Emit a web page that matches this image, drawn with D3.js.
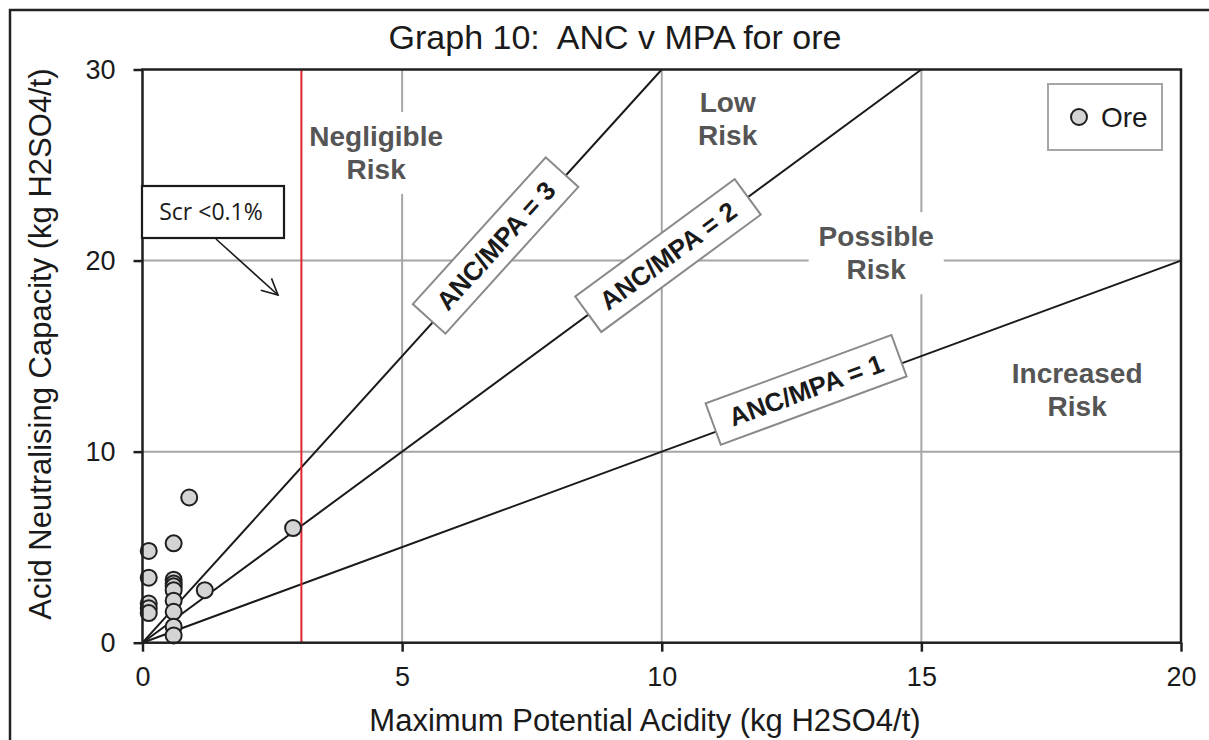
<!DOCTYPE html>
<html><head><meta charset="utf-8">
<script src="https://cdn.jsdelivr.net/npm/d3@7"></script>
<style>
html,body{margin:0;padding:0;background:#fff;}
svg{display:block;font-family:"Liberation Sans",Arial,sans-serif;}
.pre{white-space:pre;}
</style></head>
<body>
<svg id="chart" width="1209" height="740"></svg>
<script>
// ---- data ----
const chartTitle = "Graph 10:  ANC v MPA for ore";
const xTitle = "Maximum Potential Acidity (kg H2SO4/t)";
const yTitle = "Acid Neutralising Capacity (kg H2SO4/t)";
const xTicks = [0, 5, 10, 15, 20];
const yTicks = [0, 10, 20, 30];
const seriesName = "Ore";
const oreMPA = [0.12, 0.12, 0.12, 0.12, 0.12, 0.6, 0.6, 0.6, 0.6, 0.6, 0.6, 0.6, 0.6, 0.6, 0.9, 1.2, 2.9];
const oreANC = [4.8, 3.4, 2.05, 1.8, 1.55, 5.2, 3.3, 3.1, 2.95, 2.75, 2.2, 1.62, 0.84, 0.38, 7.6, 2.75, 6.0];
const ratios = [3, 2, 1];
const ratioLabels = ["ANC/MPA = 3", "ANC/MPA = 2", "ANC/MPA = 1"];
const ratioLabelMPA = [6.8, 10.12, 12.78];
const ratioLabelANC = [20.79, 20.26, 13.23];
const scrLimit = 3.06;
const scrLabel = "Scr <0.1%";
const regionNames = [["Negligible", "Risk"], ["Low", "Risk"], ["Possible", "Risk"], ["Increased", "Risk"]];
const regionMPA = [4.5, 11.27, 14.13, 18.0];
const regionANC = [26.0, 27.75, 20.75, 13.6];

// ---- layout ----
const svg = d3.select("#chart");
const x = d3.scaleLinear().domain([0, 20]).range([142.5, 1181]);
const y = d3.scaleLinear().domain([0, 30]).range([642.7, 69.5]);
const X0 = x(0), X1 = x(20), Y0 = y(0), Y1 = y(30);

// outer frame
svg.append("rect").attr("x", 10).attr("y", 10).attr("width", 1400).attr("height", 900)
  .attr("fill", "none").attr("stroke", "#222").attr("stroke-width", 2.5);

// gridlines
const grid = svg.append("g");
grid.selectAll(".gx").data(xTicks.filter(d => d > 0 && d < 20)).join("line")
  .attr("x1", d => x(d)).attr("x2", d => x(d)).attr("y1", Y0).attr("y2", Y1)
  .attr("stroke", "#a6a6a6").attr("stroke-width", 2);
grid.selectAll(".gy").data(yTicks.filter(d => d > 0 && d < 30)).join("line")
  .attr("y1", d => y(d)).attr("y2", d => y(d)).attr("x1", X0).attr("x2", X1)
  .attr("stroke", "#a6a6a6").attr("stroke-width", 2);

// region labels with white backgrounds
const regG = svg.append("g");
regionNames.forEach((lines, i) => {
  const g = regG.append("g");
  const bg = g.append("rect").attr("fill", "#fff");
  const t = g.append("text").attr("text-anchor", "middle")
    .attr("font-size", 28).attr("font-weight", "bold").attr("fill", "#555");
  lines.forEach((s, j) => {
    t.append("tspan").attr("x", x(regionMPA[i])).attr("y", y(regionANC[i]) + j * 33).text(s);
  });
  const b = t.node().getBBox();
  bg.attr("x", b.x - 10).attr("y", b.y - 9).attr("width", b.width + 20).attr("height", b.height + 18);
});

// ratio lines
svg.append("g").selectAll("line").data(ratios).join("line")
  .attr("x1", x(0)).attr("y1", y(0))
  .attr("x2", r => x(Math.min(20, 30 / r))).attr("y2", r => y(Math.min(20, 30 / r) * r))
  .attr("stroke", "#1a1a1a").attr("stroke-width", 2);

// ratio labels
ratios.forEach((r, i) => {
  const cx = x(ratioLabelMPA[i]), cy = y(ratioLabelANC[i]);
  const ang = -Math.atan2(y(0) - y(r), x(1) - x(0)) * 180 / Math.PI;
  const g = svg.append("g").attr("transform", `translate(${cx},${cy}) rotate(${ang})`);
  g.append("rect").attr("x", -99).attr("y", -22).attr("width", 198).attr("height", 44)
    .attr("fill", "#fff").attr("stroke", "#8a8a8a").attr("stroke-width", 2);
  g.append("text").attr("text-anchor", "middle").attr("dy", "0.36em")
    .attr("font-size", 26).attr("font-weight", "bold").attr("fill", "#1a1a1a").text(ratioLabels[i]);
});

// Scr red line
svg.append("line").attr("x1", x(scrLimit)).attr("x2", x(scrLimit)).attr("y1", Y0).attr("y2", Y1)
  .attr("stroke", "#e0262b").attr("stroke-width", 2);

// points
svg.append("g").selectAll("circle").data(oreMPA.map((v, i) => [v, oreANC[i]])).join("circle")
  .attr("cx", d => x(d[0])).attr("cy", d => y(d[1])).attr("r", 8)
  .attr("fill", "#d4d4d4").attr("stroke", "#1f1f1f").attr("stroke-width", 2);

// plot border
svg.append("rect").attr("x", X0).attr("y", Y1).attr("width", X1 - X0).attr("height", Y0 - Y1)
  .attr("fill", "none").attr("stroke", "#1f1f1f").attr("stroke-width", 2.5);

// axes
const xAxis = svg.append("g").attr("transform", `translate(0,${Y0})`)
  .call(d3.axisBottom(x).tickValues(xTicks).tickSize(9).tickPadding(15).tickFormat(d3.format("d")));
const yAxis = svg.append("g").attr("transform", `translate(${X0},0)`)
  .call(d3.axisLeft(y).tickValues(yTicks).tickSize(9).tickPadding(18).tickFormat(d3.format("d")));
[xAxis, yAxis].forEach(a => {
  a.select(".domain").remove();
  a.selectAll(".tick line").attr("stroke", "#1f1f1f").attr("stroke-width", 2.5);
  a.selectAll(".tick text").attr("font-size", 27).attr("font-family", "Liberation Sans, Arial, sans-serif").attr("fill", "#1a1a1a");
});

// titles
svg.append("text").attr("class", "pre").attr("x", 615).attr("y", 49).attr("text-anchor", "middle")
  .attr("font-size", 34).attr("fill", "#1a1a1a").text(chartTitle);
svg.append("text").attr("x", 645).attr("y", 731).attr("text-anchor", "middle")
  .attr("font-size", 31).attr("fill", "#1a1a1a").text(xTitle);
svg.append("text").attr("transform", `translate(51,344) rotate(-90)`).attr("text-anchor", "middle")
  .attr("font-size", 31).attr("fill", "#1a1a1a").text(yTitle);

// legend
const lg = svg.append("g");
lg.append("rect").attr("x", 1048).attr("y", 84).attr("width", 114).attr("height", 66)
  .attr("fill", "#fff").attr("stroke", "#a6a6a6").attr("stroke-width", 2);
lg.append("circle").attr("cx", 1079).attr("cy", 117).attr("r", 8)
  .attr("fill", "#d4d4d4").attr("stroke", "#1f1f1f").attr("stroke-width", 2);
lg.append("text").attr("x", 1101).attr("y", 127).attr("font-size", 28).attr("fill", "#1a1a1a").text(seriesName);

// Scr annotation
svg.append("defs").append("marker").attr("id", "arr").attr("viewBox", "0 0 20 20")
  .attr("refX", 18).attr("refY", 10).attr("markerWidth", 20).attr("markerHeight", 20)
  .attr("markerUnits", "userSpaceOnUse").attr("orient", "auto")
  .append("path").attr("d", "M2,2 L18,10 L2,18").attr("fill", "none").attr("stroke", "#1a1a1a").attr("stroke-width", 1.6);
svg.append("line").attr("x1", 216).attr("y1", 239).attr("x2", 278).attr("y2", 295)
  .attr("stroke", "#1a1a1a").attr("stroke-width", 1.6).attr("marker-end", "url(#arr)");
svg.append("rect").attr("x", 142).attr("y", 186).attr("width", 142).attr("height", 52)
  .attr("fill", "#fff").attr("stroke", "#1a1a1a").attr("stroke-width", 2.2);
svg.append("text").attr("x", 211).attr("y", 220).attr("text-anchor", "middle")
  .attr("font-family", "Open Sans, sans-serif").attr("font-size", 23).attr("fill", "#1a1a1a").text(scrLabel);
</script>
</body></html>
